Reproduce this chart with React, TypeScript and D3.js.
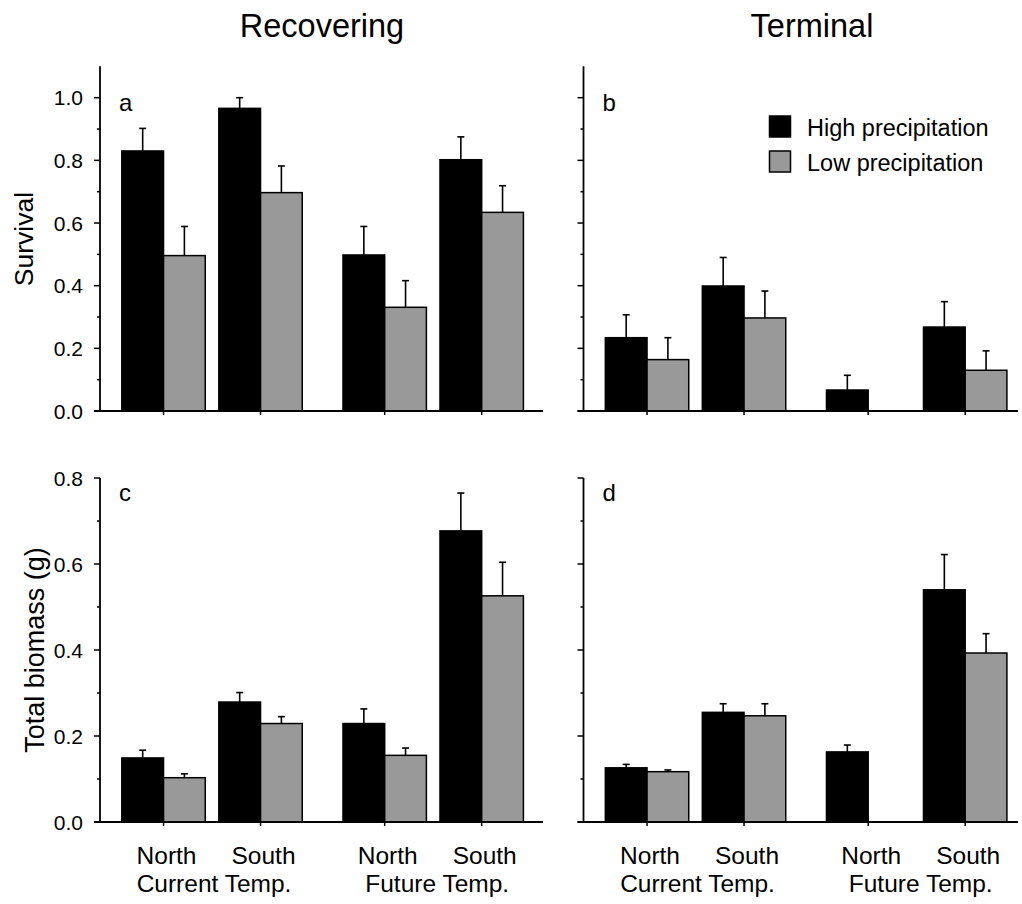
import React from "react";
import * as d3 from "d3";

// Group layout: four site/temperature combinations, wider gap between Current and Future
const groupNames = ["North", "South", "North", "South"];
const groupPos = [0, 1, 2.28, 3.28];
const tempLabels = ["Current Temp.", "Future Temp."];
const seriesNames = ["High precipitation", "Low precipitation"];

// Survival (mean, SE)
const survRecHigh = [0.83, 0.966, 0.498, 0.802];
const survRecHighSE = [0.072, 0.034, 0.091, 0.073];
const survRecLow = [0.496, 0.697, 0.331, 0.634];
const survRecLowSE = [0.093, 0.085, 0.085, 0.085];
const survTermHigh = [0.234, 0.399, 0.067, 0.268];
const survTermHighSE = [0.073, 0.091, 0.047, 0.081];
const survTermLow = [0.164, 0.297, null, 0.13];
const survTermLowSE = [0.07, 0.086, null, 0.062];

// Total biomass in grams (mean, SE)
const bioRecHigh = [0.149, 0.279, 0.229, 0.677];
const bioRecHighSE = [0.018, 0.022, 0.034, 0.088];
const bioRecLow = [0.103, 0.229, 0.155, 0.526];
const bioRecLowSE = [0.009, 0.016, 0.017, 0.078];
const bioTermHigh = [0.126, 0.255, 0.163, 0.54];
const bioTermHighSE = [0.008, 0.02, 0.016, 0.082];
const bioTermLow = [0.117, 0.247, null, 0.393];
const bioTermLowSE = [0.004, 0.028, null, 0.045];

const survTicks = [0, 0.2, 0.4, 0.6, 0.8, 1.0];
const survMinor = [0.1, 0.3, 0.5, 0.7, 0.9];
const bioTicks = [0, 0.2, 0.4, 0.6, 0.8];
const bioMinor = [0.1, 0.3, 0.5, 0.7];

const FONT = "'Liberation Sans', Arial, Helvetica, sans-serif";
const GRAY = "#999999";

type PanelProps = {
  left: number;
  right: number;
  y0: number;
  yTop: number;
  domainMax: number;
  axisMax: number;
  high: (number | null)[];
  highSE: (number | null)[];
  low: (number | null)[];
  lowSE: (number | null)[];
  ticks: number[];
  minor: number[];
  showTickLabels: boolean;
  showXLabels: boolean;
  letter: string;
};

function Panel(p: PanelProps) {
  const unit = 97;
  const x = d3
    .scaleLinear()
    .domain([-0.655, 0])
    .range([p.left, p.left + 0.655 * unit]);
  const y = d3.scaleLinear().domain([0, p.domainMax]).range([p.y0, p.yTop]);
  const barW = 0.43 * unit;
  const cap = 3.5;

  const bars: React.ReactNode[] = [];
  const drawSeries = (
    vals: (number | null)[],
    ses: (number | null)[],
    side: number,
    fill: string,
    key: string
  ) => {
    vals.forEach((v, i) => {
      if (v == null) return;
      const cx = x(groupPos[i]);
      const bx = side < 0 ? cx - barW : cx;
      const mid = bx + barW / 2;
      const se = ses[i] ?? 0;
      bars.push(
        <g key={`${key}${i}`}>
          <line x1={mid} x2={mid} y1={y(v)} y2={y(v + se)} stroke="#000" strokeWidth={1.6} />
          <line x1={mid - cap} x2={mid + cap} y1={y(v + se)} y2={y(v + se)} stroke="#000" strokeWidth={1.6} />
          <rect x={bx} y={y(v)} width={barW} height={y(0) - y(v)} fill={fill} stroke="#000" strokeWidth={1.5} />
        </g>
      );
    });
  };
  drawSeries(p.high, p.highSE, -1, "#000", "h");
  drawSeries(p.low, p.lowSE, 1, GRAY, "l");

  return (
    <g>
      {bars}
      {/* y axis */}
      <line x1={p.left} x2={p.left} y1={y(p.axisMax)} y2={p.y0} stroke="#000" strokeWidth={1.8} />
      {p.ticks.map((t) => (
        <g key={`t${t}`}>
          <line x1={p.left - 6} x2={p.left} y1={y(t)} y2={y(t)} stroke="#000" strokeWidth={1.5} />
          {p.showTickLabels && (
            <text
              x={p.left - 17}
              y={y(t)}
              dy="0.37em"
              textAnchor="end"
              fontSize={21}
              fontFamily={FONT}
            >
              {t.toFixed(1)}
            </text>
          )}
        </g>
      ))}
      {p.minor.map((t) => (
        <line key={`m${t}`} x1={p.left - 3} x2={p.left} y1={y(t)} y2={y(t)} stroke="#000" strokeWidth={1.5} />
      ))}
      {/* x axis */}
      <line x1={p.left - 6} x2={p.right} y1={p.y0} y2={p.y0} stroke="#000" strokeWidth={1.8} />
      {groupPos.map((g, i) => (
        <line key={`xt${i}`} x1={x(g)} x2={x(g)} y1={p.y0} y2={p.y0 + 4} stroke="#000" strokeWidth={1.5} />
      ))}
      <text x={p.left + 19} y={p.yTop + (p.axisMax > p.domainMax ? 13 : 23)} fontSize={24} fontFamily={FONT}>
        {p.letter}
      </text>
      {p.showXLabels && (
        <g fontFamily={FONT} fontSize={24.5} textAnchor="middle">
          {groupPos.map((g, i) => (
            <text key={`gn${i}`} x={x(g) + 3} y={864}>
              {groupNames[i]}
            </text>
          ))}
          <text x={(x(groupPos[0]) + x(groupPos[1])) / 2 + 2} y={892}>
            {tempLabels[0]}
          </text>
          <text x={(x(groupPos[2]) + x(groupPos[3])) / 2 + 4} y={892}>
            {tempLabels[1]}
          </text>
        </g>
      )}
    </g>
  );
}

export default function App() {
  const topY0 = 411;
  const topY1 = 97.7;
  const botY0 = 822;
  const botY08 = 478;
  return (
    <svg
      width={1022}
      height={904}
      style={{ position: "absolute", left: 0, top: 0, background: "#fff" }}
      fontFamily={FONT}
    >
      <rect x={0} y={0} width={1022} height={904} fill="#fff" />
      <text x={322} y={37} fontSize={32.5} textAnchor="middle">Recovering</text>
      <text x={812} y={37} fontSize={32.5} textAnchor="middle">Terminal</text>

      <text transform={`translate(33,${(topY0 + 67) / 2}) rotate(-90)`} fontSize={26.5} textAnchor="middle">
        Survival
      </text>
      <text transform={`translate(44,${(botY0 + botY08) / 2}) rotate(-90)`} fontSize={27} textAnchor="middle">
        Total biomass (g)
      </text>

      <Panel left={100} right={543} y0={topY0} yTop={topY1} domainMax={1} axisMax={1.1}
        high={survRecHigh} highSE={survRecHighSE} low={survRecLow} lowSE={survRecLowSE}
        ticks={survTicks} minor={survMinor} showTickLabels showXLabels={false} letter="a" />
      <Panel left={583.5} right={1018} y0={topY0} yTop={topY1} domainMax={1} axisMax={1.1}
        high={survTermHigh} highSE={survTermHighSE} low={survTermLow} lowSE={survTermLowSE}
        ticks={survTicks} minor={survMinor} showTickLabels={false} showXLabels={false} letter="b" />
      <Panel left={100} right={543} y0={botY0} yTop={botY08} domainMax={0.8} axisMax={0.8}
        high={bioRecHigh} highSE={bioRecHighSE} low={bioRecLow} lowSE={bioRecLowSE}
        ticks={bioTicks} minor={bioMinor} showTickLabels showXLabels letter="c" />
      <Panel left={583.5} right={1018} y0={botY0} yTop={botY08} domainMax={0.8} axisMax={0.8}
        high={bioTermHigh} highSE={bioTermHighSE} low={bioTermLow} lowSE={bioTermLowSE}
        ticks={bioTicks} minor={bioMinor} showTickLabels={false} showXLabels letter="d" />

      {/* legend */}
      <g fontSize={23.5}>
        <rect x={769.5} y={116} width={21} height={21} fill="#000" stroke="#000" strokeWidth={1.5} />
        <text x={807} y={136}>{seriesNames[0]}</text>
        <rect x={769.5} y={151} width={21} height={21} fill={GRAY} stroke="#000" strokeWidth={1.5} />
        <text x={807} y={170.5}>{seriesNames[1]}</text>
      </g>
    </svg>
  );
}
